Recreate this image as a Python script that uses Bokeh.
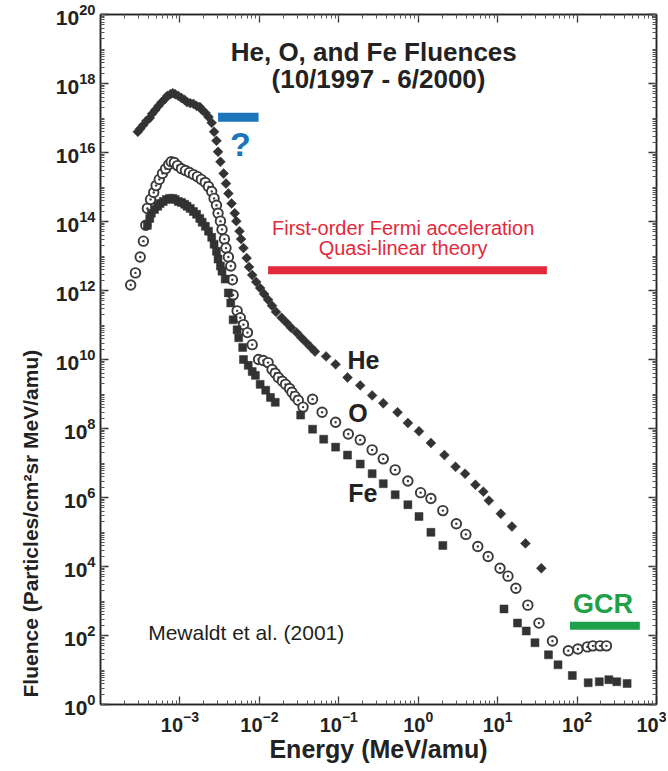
import numpy as np
from bokeh.plotting import figure
from bokeh.models import (LogAxis, FixedTicker, CustomJSTickFormatter, LogTickFormatter,
                          Label, Title, ColumnDataSource)
from bokeh.embed import file_html
from bokeh.resources import INLINE

# ---------------- data (log10 of energy in MeV/amu, log10 of fluence) ----------------
he_log_e = [-3.53, -3.50, -3.46, -3.42, -3.38, -3.35, -3.31, -3.27, -3.23, -3.19, -3.16, -3.12,
            -3.09, -3.06, -3.02, -2.98, -2.94, -2.91, -2.87, -2.83, -2.79, -2.75, -2.72, -2.68,
            -2.64, -2.60, -2.57, -2.54, -2.52, -2.49, -2.45, -2.42, -2.39, -2.35, -2.31, -2.29,
            -2.25, -2.23, -2.20, -2.16, -2.13, -2.09, -2.04, -1.99, -1.94, -1.89, -1.84, -1.79,
            -1.72, -1.66, -1.60, -1.53, -1.47, -1.41, -1.35, -1.30,
            -1.16, -1.04, -0.89, -0.73, -0.58, -0.44, -0.26, -0.13, 0.01, 0.16, 0.33, 0.47,
            0.59, 0.72, 0.82, 0.89, 1.04, 1.18, 1.35, 1.55]
he_log_f = [16.60, 16.69, 16.80, 16.92, 17.00, 17.12, 17.23, 17.35, 17.46, 17.55, 17.64, 17.69,
            17.72, 17.69, 17.64, 17.58, 17.52, 17.46, 17.43, 17.41, 17.35, 17.32, 17.23, 17.15,
            17.03, 16.86, 16.60, 16.34, 16.02, 15.73, 15.39, 15.10, 14.81, 14.52, 14.24, 14.01,
            13.72, 13.49, 13.23, 12.94, 12.68, 12.45, 12.25, 12.07, 11.90, 11.73, 11.56, 11.38,
            11.21, 11.07, 10.92, 10.78, 10.63, 10.49, 10.35, 10.23,
            10.09, 9.86, 9.48, 9.25, 8.96, 8.73, 8.47, 8.16, 7.92, 7.58, 7.23, 6.89,
            6.69, 6.37, 6.17, 5.91, 5.53, 5.16, 4.67, 3.95]

o_log_e = [-3.62, -3.56, -3.50, -3.46, -3.43, -3.41, -3.37, -3.33, -3.30, -3.26, -3.22, -3.18,
           -3.14, -3.11, -3.07, -3.03, -2.98, -2.93, -2.88, -2.83, -2.78, -2.73, -2.68, -2.64,
           -2.60, -2.57, -2.54, -2.52, -2.49, -2.47, -2.44, -2.42, -2.39, -2.36, -2.34, -2.33,
           -2.28, -2.24, -2.20, -2.15, -2.09, -2.01, -1.95, -1.89, -1.84, -1.80, -1.76, -1.71,
           -1.67, -1.62, -1.59, -1.55, -1.51, -1.45, -1.33, -1.21, -1.04, -0.88, -0.73, -0.58,
           -0.44, -0.29, -0.13, 0.03, 0.16, 0.31, 0.48, 0.60, 0.75, 0.88, 1.03, 1.13,
           1.23, 1.38, 1.52, 1.69, 1.89, 2.01, 2.13, 2.20, 2.29, 2.37]
o_log_f = [12.16, 12.51, 12.97, 13.43, 13.89, 14.38, 14.64, 14.84, 15.04, 15.22, 15.39, 15.53,
           15.65, 15.73, 15.71, 15.62, 15.53, 15.48, 15.42, 15.36, 15.30, 15.22, 15.13, 15.01,
           14.87, 14.67, 14.47, 14.24, 14.01, 13.77, 13.49, 13.23, 12.97, 12.71, 12.31, 11.87,
           11.41, 11.21, 11.01, 10.78, 10.43, 10.00, 9.97, 9.91, 9.71, 9.60, 9.48, 9.37,
           9.28, 9.16, 9.05, 8.93, 8.82, 8.62, 8.85, 8.47, 8.18, 7.84, 7.67, 7.38,
           7.12, 6.80, 6.48, 6.14, 5.97, 5.62, 5.24, 4.93, 4.58, 4.29, 3.95, 3.72,
           3.37, 2.88, 2.36, 1.84, 1.56, 1.61, 1.67, 1.70, 1.70, 1.70]

fe_log_e = [-3.41, -3.38, -3.36, -3.32, -3.28, -3.25, -3.21, -3.17, -3.13, -3.09, -3.06, -3.02,
            -2.98, -2.94, -2.91, -2.87, -2.83, -2.79, -2.75, -2.72, -2.68, -2.64, -2.60, -2.57,
            -2.54, -2.52, -2.49, -2.47, -2.43, -2.39, -2.36, -2.33, -2.28, -2.26, -2.21, -2.20,
            -2.14, -2.09, -2.05, -1.99, -1.92, -1.86, -1.80, -1.48, -1.33, -1.19, -1.04, -0.89,
            -0.73, -0.58, -0.44, -0.29, -0.13, 0.01, 0.16, 0.31,
            1.08, 1.25, 1.36, 1.47, 1.64, 1.76, 1.94, 2.14, 2.28, 2.40, 2.50, 2.63]
fe_log_f = [13.89, 14.09, 14.24, 14.35, 14.44, 14.52, 14.58, 14.64, 14.67, 14.67, 14.64, 14.58,
            14.55, 14.50, 14.44, 14.38, 14.29, 14.21, 14.09, 13.98, 13.86, 13.72, 13.54, 13.34,
            13.14, 12.91, 12.71, 12.56, 12.33, 11.93, 11.64, 11.15, 10.86, 10.63, 10.35, 10.00,
            9.83, 9.65, 9.54, 9.28, 9.11, 8.90, 8.76, 8.39, 7.98, 7.69, 7.46, 7.23,
            6.97, 6.69, 6.40, 6.08, 5.79, 5.45, 4.99, 4.61,
            2.77, 2.36, 2.13, 1.79, 1.44, 1.15, 0.84, 0.63, 0.66, 0.72, 0.66, 0.61]

# annotation bars: (log10 E start, log10 E end, log10 fluence level)
question_bar = (-2.52, -2.01, 17.02)
fermi_bar = (-1.89, 1.62, 12.59)
gcr_bar = (1.91, 2.79, 2.28)

# decades carrying tick labels (rendered as 10 with a superscript exponent)
x_tick_exps = [-3, -2, -1, 0, 1, 2, 3]
y_tick_exps = [0, 2, 4, 6, 8, 10, 12, 14, 16, 18, 20]

FONT = "Liberation Sans"
INK = "#333333"

p = figure(width=666, height=770, frame_width=556, frame_height=690,
           x_axis_type="log", y_axis_type="log",
           x_range=(1e-4, 1e3), y_range=(1e0, 1e20),
           output_backend="svg", toolbar_location=None,
           min_border_left=100, min_border_right=10, min_border_top=14, min_border_bottom=60)
p.background_fill_color = "white"
p.border_fill_color = "white"
p.xgrid.visible = False
p.ygrid.visible = False
p.outline_line_color = "#222222"
p.outline_line_width = 1.5

x_minor = [m * 10.0 ** k for k in range(-4, 3) for m in range(1, 10)] + [1e3]
y_minor = [m * 10.0 ** k for k in range(0, 20) for m in range(1, 10)] + [1e20]
x_major = [10.0 ** e for e in x_tick_exps]
y_major = [10.0 ** e for e in y_tick_exps]

def style_axis(ax, major, minor, show_labels):
    ax.ticker = FixedTicker(ticks=major, minor_ticks=minor)
    ax.major_tick_in = 8
    ax.major_tick_out = 0
    ax.minor_tick_in = 4
    ax.minor_tick_out = 0
    ax.axis_line_color = "#222222"
    ax.axis_line_width = 1.5
    ax.major_tick_line_color = "#333333"
    ax.minor_tick_line_color = "#555555"
    ax.major_tick_line_width = 1.3
    if show_labels:
        ax.formatter = LogTickFormatter(min_exponent=0)
        ax.major_label_text_font = FONT
        ax.major_label_text_font_style = "bold"
        ax.major_label_text_font_size = "20px"
        ax.major_label_text_color = "#222222"
    else:
        ax.formatter = CustomJSTickFormatter(code="return '';")
        ax.major_label_text_font_size = "0px"
        ax.major_label_standoff = 0
        ax.major_label_text_alpha = 0

xax = p.xaxis[0]
style_axis(xax, x_major, x_minor, True)
xax.major_label_standoff = 6
xax.axis_label = "Energy (MeV/amu)"
xax.axis_label_text_font = FONT
xax.axis_label_text_font_style = "bold"
xax.axis_label_text_font_size = "25px"
xax.axis_label_text_color = "#222222"
xax.axis_label_standoff = 0

yax = p.yaxis[0]
style_axis(yax, y_major, y_minor, True)
yax.major_label_text_font_size = "21px"
yax.major_label_standoff = 5

top = LogAxis()
style_axis(top, x_major, x_minor, False)
p.add_layout(top, "above")
right = LogAxis()
style_axis(right, y_major, y_minor, False)
p.add_layout(right, "right")

ytitle = Title(text="Fluence (Particles/cm\u00b2sr MeV/amu)", align="left", offset=7,
               text_font=FONT, text_font_style="bold", text_font_size="21px",
               text_color="#222222", standoff=22)
p.add_layout(ytitle, "left")

# ---------------- data marks ----------------
def src(le, lf):
    return ColumnDataSource(dict(x=10.0 ** np.array(le), y=10.0 ** np.array(lf)))

p.scatter("x", "y", source=src(he_log_e, he_log_f), marker="square", angle=np.pi / 4,
          size=7, fill_color=INK, line_color=INK, line_width=0.5)
p.scatter("x", "y", source=src(o_log_e, o_log_f), marker="circle_dot", size=9.5,
          fill_color="white", line_color="#3a3a3a", line_width=1.9)
p.scatter("x", "y", source=src(fe_log_e, fe_log_f), marker="square", size=8,
          fill_color=INK, line_color=INK, line_width=0.5)

def bar(b, color, w):
    p.segment(x0=[10.0 ** b[0]], y0=[10.0 ** b[2]], x1=[10.0 ** b[1]], y1=[10.0 ** b[2]],
              line_color=color, line_width=w, line_cap="butt")

BLUE = "#1b75bb"
RED = "#e3293c"
GREEN = "#1fa04a"
bar(question_bar, BLUE, 9)
bar(fermi_bar, RED, 8)
bar(gcr_bar, GREEN, 8)

def lab(text, lx, ly, size, color="#222222", bold=True, align="left"):
    p.add_layout(Label(x=10.0 ** lx, y=10.0 ** ly, text=text, text_font=FONT,
                       text_font_size=size, text_font_style="bold" if bold else "normal",
                       text_color=color, text_align=align, text_baseline="alphabetic"))

lab("He, O, and Fe Fluences", -0.56, 18.92, "26px", align="center")
lab("(10/1997 - 6/2000)", -0.50, 18.14, "26px", align="center")
lab("?", -2.24, 16.25, "34px", color=BLUE, align="center")
lab("First-order Fermi acceleration", -0.19, 13.82, "20px", color=RED, bold=False, align="center")
lab("Quasi-linear theory", -0.19, 13.22, "20px", color=RED, bold=False, align="center")
lab("He", -0.89, 10.00, "25px")
lab("O", -0.88, 8.44, "25px")
lab("Fe", -0.88, 6.14, "25px")
lab("GCR", 1.95, 2.91, "27px", color=GREEN)
lab("Mewaldt et al. (2001)", -3.40, 2.08, "21px", bold=False)

open("out.html", "w").write(file_html(p, INLINE))
